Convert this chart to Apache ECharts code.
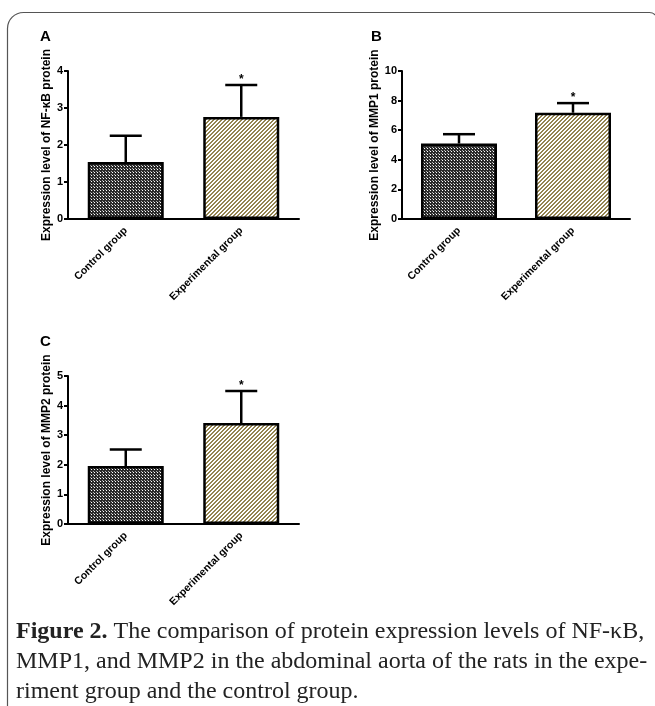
<!DOCTYPE html>
<html>
<head>
<meta charset="utf-8">
<script src="https://cdn.jsdelivr.net/npm/echarts@6/dist/echarts.min.js"></script>
<style>
html,body{margin:0;padding:0;background:#fff;}
#chart{width:655px;height:706px;}
</style>
</head>
<body>
<div id="chart"></div>
<script>
// ---- data ----
const categories = ['Control group', 'Experimental group'];
const nfkbMean = [1.54, 2.76];
const nfkbUpper = [2.25, 3.62];
const mmp1Mean = [5.10, 7.18];
const mmp1Upper = [5.73, 7.83];
const mmp2Mean = [1.96, 3.41];
const mmp2Upper = [2.52, 4.49];
const significance = ['', '*'];
const yTicksA = [0, 1, 2, 3, 4];
const yTicksB = [0, 2, 4, 6, 8, 10];
const yTicksC = [0, 1, 2, 3, 4, 5];
const yNames = ['Expression level of NF-\u03BAB protein', 'Expression level of MMP1 protein', 'Expression level of MMP2 protein'];
const panelLetters = ['A', 'B', 'C'];
const captionLines = [
  'The comparison of protein expression levels of NF-\u03BAB,',
  'MMP1, and MMP2 in the abdominal aorta of the rats in the expe-',
  'riment group and the control group.'
];

// ---- patterns ----
function checkerPattern() {
  const c = document.createElement('canvas');
  c.width = 3; c.height = 3;
  const g = c.getContext('2d');
  g.fillStyle = '#2b2b2b'; g.fillRect(0, 0, 3, 3);
  g.fillStyle = '#ffffff'; g.fillRect(1, 1, 1, 1);
  g.fillStyle = '#b0b0b0'; g.fillRect(0, 0, 1, 1);
  return c;
}
function stripePattern() {
  const c = document.createElement('canvas');
  c.width = 4; c.height = 4;
  const g = c.getContext('2d');
  g.fillStyle = '#ffffff'; g.fillRect(0, 0, 4, 4);
  g.fillStyle = '#938450';
  for (let x = 0; x < 4; x++) for (let y = 0; y < 4; y++) {
    const m = (x + y) % 4;
    if (m === 0 || m === 1) g.fillRect(x, y, 1, 1);
  }
  return c;
}
const fills = [
  { image: checkerPattern(), repeat: 'repeat' },
  { image: stripePattern(), repeat: 'repeat' }
];

const axisFont = 'Liberation Sans, Arial, sans-serif';
const grids = [
  { left: 68, top: 71, width: 231, height: 148 },
  { left: 402, top: 71, width: 228, height: 148 },
  { left: 68, top: 376, width: 231, height: 148 }
];
const panels = [
  { mean: nfkbMean, upper: nfkbUpper, ticks: yTicksA, nameGap: 15 },
  { mean: mmp1Mean, upper: mmp1Upper, ticks: yTicksB, nameGap: 21 },
  { mean: mmp2Mean, upper: mmp2Upper, ticks: yTicksC, nameGap: 15 }
];

const xAxes = [], yAxes = [], series = [];
panels.forEach((p, i) => {
  xAxes.push({
    type: 'category', gridIndex: i, data: categories,
    axisLine: { lineStyle: { color: '#000', width: 2 } },
    axisTick: { alignWithLabel: true, length: 4, lineStyle: { color: '#000', width: 2 } },
    axisLabel: { rotate: 45, margin: 10, color: '#000', fontFamily: axisFont, fontWeight: 'bold', fontSize: 10.5 }
  });
  const step = p.ticks[1] - p.ticks[0];
  yAxes.push({
    type: 'value', gridIndex: i, min: p.ticks[0], max: p.ticks[p.ticks.length - 1], interval: step,
    name: yNames[i], nameLocation: 'middle', nameRotate: 90, nameGap: p.nameGap,
    nameTextStyle: { color: '#000', fontFamily: axisFont, fontWeight: 'bold', fontSize: 12 },
    splitLine: { show: false },
    axisLine: { show: true, lineStyle: { color: '#000', width: 2 } },
    axisTick: { show: true, length: 4, lineStyle: { color: '#000', width: 2 } },
    axisLabel: { margin: 5, color: '#000', fontFamily: axisFont, fontWeight: 'bold', fontSize: 11 }
  });
  series.push({
    type: 'bar', xAxisIndex: i, yAxisIndex: i, barWidth: 76,
    data: p.mean.map((v, k) => ({ value: v, itemStyle: { color: fills[k] } })),
    itemStyle: { borderColor: '#000', borderWidth: 2.5 },
    silent: true
  });
  series.push({
    type: 'custom', xAxisIndex: i, yAxisIndex: i, silent: true, z: 5,
    data: p.mean.map((v, k) => [k, v, p.upper[k], significance[k]]),
    renderItem: function (params, api) {
      const lo = api.coord([api.value(0), api.value(1)]);
      const hi = api.coord([api.value(0), api.value(2)]);
      const half = 16;
      const st = { stroke: '#000', lineWidth: 2.5 };
      const sig = significance[params.dataIndex];
      const children = [
        { type: 'line', shape: { x1: lo[0], y1: lo[1], x2: hi[0], y2: hi[1] }, style: st },
        { type: 'line', shape: { x1: hi[0] - half, y1: hi[1], x2: hi[0] + half, y2: hi[1] }, style: st }
      ];
      if (sig) {
        children.push({ type: 'text', x: hi[0], y: hi[1] + 1,
          style: { text: sig, fill: '#000', font: 'bold 12px ' + axisFont, textAlign: 'center', textVerticalAlign: 'bottom' } });
      }
      return { type: 'group', children: children };
    }
  });
});

const letterPos = [[40, 29], [371, 29], [40, 334]];
const graphic = [
  { type: 'rect', shape: { x: 7.5, y: 12.5, width: 650, height: 720, r: [16, 8, 0, 0] },
    style: { fill: 'none', stroke: '#555', lineWidth: 1.2 }, silent: true }
];
panelLetters.forEach((l, i) => {
  graphic.push({ type: 'text', x: letterPos[i][0], y: letterPos[i][1],
    style: { text: l, fill: '#000', font: 'bold 15px ' + axisFont } });
});
graphic.push({ type: 'text', x: 16, y: 617,
  style: {
    text: '{b|Figure 2.} ' + captionLines[0] + '\n' + captionLines[1] + '\n' + captionLines[2],
    fill: '#222', font: '24px Liberation Serif, Times New Roman, serif', lineHeight: 30,
    rich: { b: { fontWeight: 'bold', fontFamily: 'Liberation Serif, Times New Roman, serif', fontSize: 24, lineHeight: 30, fill: '#222' } }
  } });

const chart = echarts.init(document.getElementById('chart'), null, { renderer: 'canvas' });
chart.setOption({
  animation: false,
  backgroundColor: '#fff',
  grid: grids,
  xAxis: xAxes,
  yAxis: yAxes,
  series: series,
  graphic: graphic
});
</script>
</body>
</html>
